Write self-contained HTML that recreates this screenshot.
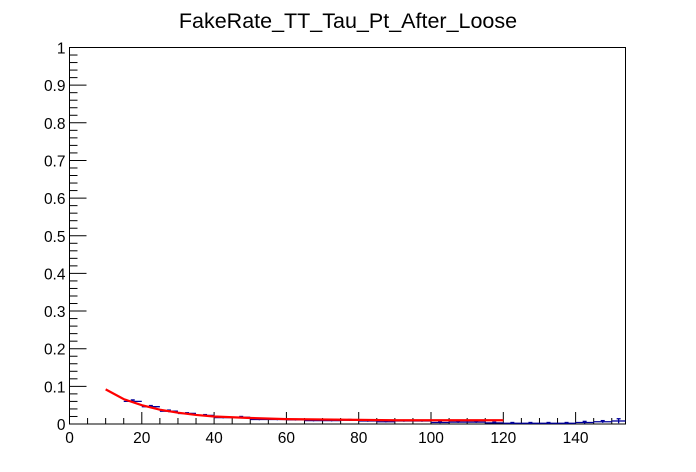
<!DOCTYPE html>
<html><head><meta charset="utf-8"><style>
body{margin:0;background:#fff;}
svg{display:block;font-family:"Liberation Sans",sans-serif;}
</style></head><body>
<svg id="c" width="696" height="472">
<text x="348" y="28" font-size="21.5" text-anchor="middle">FakeRate_TT_Tau_Pt_After_Loose</text>
<rect x="69.5" y="47.5" width="556" height="376.5" fill="none" stroke="#000"/>
<g id="ax"></g><g id="pts"></g><g id="fit"></g>
</svg>
<script>
const binLo=[15,20,25,30,35,40,45,50,55,60,65,70,75,80,85,90,95,100,105,110,115,120,125,130,135,140,145,150];
const binVal=[0.060,0.046,0.034,0.028,0.023,0.017,0.018,0.012,0.012,0.011,0.009,0.009,0.010,0.008,0.006,0.008,0.008,0.004,0.005,0.005,0.003,0.002,0.002,0.002,0.002,0.004,0.006,0.008];
const binErr=[0.004,0.003,0.003,0.002,0.002,0.002,0.002,0.002,0.002,0.002,0.002,0.002,0.002,0.002,0.002,0.002,0.002,0.002,0.002,0.002,0.002,0.002,0.002,0.002,0.002,0.003,0.003,0.006];
const fitX=[10,15,20,25,30,35,40,50,60,70,80,90,100,110,120];
const fitY=[0.092,0.066,0.050,0.038,0.030,0.024,0.020,0.016,0.013,0.012,0.011,0.010,0.010,0.010,0.010];
const xTicks=[0,20,40,60,80,100,120,140];
const yTicks=[0,0.1,0.2,0.3,0.4,0.5,0.6,0.7,0.8,0.9,1];
const yLabels=["0","0.1","0.2","0.3","0.4","0.5","0.6","0.7","0.8","0.9","1"];
const X0=69.5,X1=625.5,Y0=424,Y1=47.5,XMAX=153.8;
const sx=v=>X0+(X1-X0)*v/XMAX, sy=v=>Y0-(Y0-Y1)*v;
const NS="http://www.w3.org/2000/svg";
function mk(t,a,p){const e=document.createElementNS(NS,t);for(const k in a)e.setAttribute(k,a[k]);p.appendChild(e);return e;}
const ax=document.getElementById('ax');
for(let i=0;i<=50;i++){const v=i*0.02;const maj=i%5===0;
 const l=mk('line',{x1:X0,x2:X0+(maj?17:8),y1:sy(v),y2:sy(v),stroke:'#000'},ax);
 
 }
yTicks.forEach((v,i)=>{const t=mk('text',{x:X0-4,y:sy(v)+6,'font-size':15.5,'text-anchor':'end'},ax);t.textContent=yLabels[i];
 
 });
for(let v=0;v<=XMAX;v+=5){const maj=v%20===0;
 const l=mk('line',{x1:sx(v),x2:sx(v),y1:Y0,y2:Y0-(maj?12:6),stroke:'#000'},ax);
 
 }
xTicks.forEach(v=>{const t=mk('text',{x:sx(v),y:Y0+19,'font-size':15.5,'text-anchor':'middle'},ax);t.textContent=v;
 
 });
const pts=document.getElementById('pts');
binLo.forEach((lo,i)=>{const hi=Math.min(lo+5,XMAX);const g=mk('g',{stroke:'#00009a','stroke-width':1.3},pts);
 
 
 const y=sy(binVal[i]),c=sx((lo+Math.min(lo+5,XMAX))/2);
 mk('line',{x1:sx(lo),x2:sx(hi),y1:y,y2:y},g);
 mk('line',{x1:c,x2:c,y1:sy(binVal[i]+binErr[i]),y2:Math.min(Y0,sy(binVal[i]-binErr[i]))},g);
 mk('line',{x1:c-2,x2:c+2,y1:sy(binVal[i]+binErr[i]),y2:sy(binVal[i]+binErr[i])},g);});
const fit=document.getElementById('fit');
const p=mk('polyline',{points:fitX.map((x,i)=>sx(x)+','+sy(fitY[i])).join(' '),fill:'none',stroke:'#ff0000','stroke-width':2.2},fit);


</script>
</body></html>
